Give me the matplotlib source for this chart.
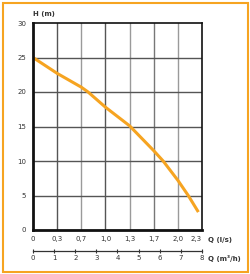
import matplotlib
matplotlib.use("Agg")
import matplotlib.pyplot as plt
from matplotlib.patches import Rectangle

# pump curve, x in grid steps (l/s axis has 7 equal divisions)
grid_pos = [0, 1, 2, 2.28, 3, 4, 5, 5.39, 6, 6.43, 6.85]
head_m = [25, 22.7, 20.7, 20.0, 17.8, 15.1, 11.5, 10.0, 7.2, 5.0, 2.6]

ls_labels = ["0", "0,3", "0,7", "1,0", "1,3", "1,7", "2,0", "2,3"]
m3h_ticks = [0, 1, 2, 3, 4, 5, 6, 7, 8]
h_ticks = [0, 5, 10, 15, 20, 25, 30]

orange = "#f6a421"
txt = "#333333"
fs = 5

W, H = 251, 274
fig = plt.figure(figsize=(W / 100, H / 100), dpi=100)

# orange frame around everything
fig.patches.append(Rectangle((3 / W, 2 / H), 245 / W, 269 / H, transform=fig.transFigure,
                             fill=False, edgecolor=orange, linewidth=1.5))

left, right, bottom, top = 33 / W, 202 / W, 1 - 230 / H, 1 - 23 / H
ax = fig.add_axes([left, bottom, right - left, top - bottom])
ax.set_xlim(0, 7)
ax.set_ylim(0, 30)

# grid lines
vcols = {1: "#555555", 2: "#9a9a9a", 3: "#555555", 4: "#9a9a9a", 5: "#777777", 6: "#9a9a9a"}
for g, c in vcols.items():
    ax.axvline(g, color=c, linewidth=1.0, zorder=1)
for h in h_ticks[1:-1]:
    ax.axhline(h, color="#555555", linewidth=1.0, zorder=1)

ax.plot(grid_pos, head_m, color=orange, linewidth=2.2, solid_capstyle="butt", zorder=3)

for side in ["top", "right"]:
    ax.spines[side].set_linewidth(1.2)
for side in ["left", "bottom"]:
    ax.spines[side].set_linewidth(2.0)
for s in ax.spines.values():
    s.set_color("#111111")
    s.set_zorder(4)

ax.set_xticks(range(8))
ax.set_xticklabels(ls_labels)
ax.get_xticklabels()[-1].set_ha("right")
ax.set_yticks(h_ticks)
ax.tick_params(length=0, labelsize=fs, labelcolor=txt, pad=4)
ax.tick_params(axis="y", pad=5)

fig.text(33 / W, 1 - 14 / H, "H (m)", fontsize=fs, color=txt, ha="left", va="center", fontweight="bold")
fig.text(208 / W, 1 - 240 / H, "Q (l/s)", fontsize=fs, color=txt, ha="left", va="center", fontweight="bold")

# second flow axis in m3/h
ax2 = fig.add_axes([left, 1 - 251 / H, right - left, 0.0001])
ax2.set_xlim(0, 8)
ax2.set_yticks([])
ax2.set_xticks(m3h_ticks)
for side in ["top", "right", "left"]:
    ax2.spines[side].set_visible(False)
ax2.spines["bottom"].set_linewidth(0.9)
ax2.spines["bottom"].set_color("#333333")
ax2.tick_params(axis="x", direction="inout", length=2.5, width=0.8, color="#333333",
                labelsize=fs, labelcolor=txt, pad=1.5)
fig.text(208 / W, 1 - 258 / H, "Q (m³/h)", fontsize=fs, color=txt, ha="left", va="center", fontweight="bold")

fig.savefig("out.png", dpi=100)
